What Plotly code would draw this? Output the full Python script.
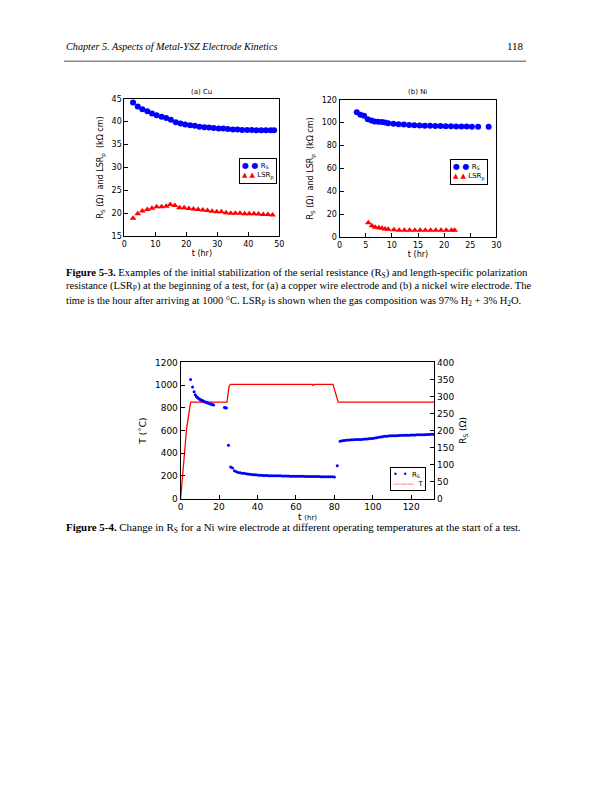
import plotly.graph_objects as go

W, H = 612, 792
def px(x): return x / W
def py(y): return 1 - y / H

# ---------------- (a) Cu ----------------
cu_t = [2.8, 4.3, 5.8, 7.4, 8.9, 10.4, 12.0, 13.5, 15.0, 16.6, 18.1, 19.6, 21.2, 22.7, 24.2,
        25.8, 27.3, 28.8, 30.4, 31.9, 33.4, 35.0, 36.5, 38.0, 39.6, 41.1, 42.6, 44.2, 45.7, 47.2, 48.3]
cu_rs = [44.2, 43.3, 42.7, 42.3, 41.8, 41.4, 41.1, 40.8, 40.4, 39.9, 39.6, 39.4, 39.2, 39.1, 38.9,
         38.8, 38.7, 38.6, 38.5, 38.5, 38.4, 38.3, 38.3, 38.2, 38.2, 38.2, 38.1, 38.1, 38.1, 38.1, 38.1]
cu_lsr_t = [2.8, 4.3, 5.8, 7.4, 8.9, 10.4, 12.0, 13.5, 14.8, 16.3, 17.8, 19.3, 20.8, 22.3, 23.8,
            25.3, 26.8, 28.3, 29.8, 31.3, 32.8, 34.3, 35.8, 37.3, 38.8, 40.3, 41.8, 43.3, 44.8, 46.3, 47.8]
cu_lsr = [18.9, 19.9, 20.5, 20.8, 21.1, 21.4, 21.4, 21.5, 21.9, 21.7, 21.2, 21.2, 21.0, 20.9, 20.8,
          20.7, 20.6, 20.4, 20.3, 20.3, 20.1, 20.0, 20.0, 20.0, 19.9, 19.9, 19.9, 19.8, 19.7, 19.7, 19.6]

# ---------------- (b) Ni ----------------
ni_t = [3.3, 4.0, 4.7, 5.4, 6.1, 6.7, 7.4, 8.1, 8.7, 9.3, 10.3, 11.3, 12.3, 13.3, 14.3, 15.3,
        16.3, 17.3, 18.3, 19.3, 20.3, 21.3, 22.3, 23.3, 24.3, 25.3, 26.5, 28.5]
ni_rs = [109, 107, 106, 103, 102, 101, 100.8, 100.5, 100.2, 99.5, 99, 98.6, 98.3, 98, 97.8, 97.5,
         97.3, 97.2, 97, 97, 96.9, 96.8, 96.7, 96.6, 96.6, 96.5, 96.5, 96.5]
ni_lsr_t = [5.5, 6.2, 6.8, 7.5, 8.1, 8.7, 9.3, 10.4, 11.4, 12.4, 13.4, 14.4, 15.4, 16.4, 17.4,
            18.4, 19.4, 20.4, 21.4, 22.0]
ni_lsr = [12.5, 9.8, 8.6, 8.2, 7.6, 7.0, 6.8, 6.3, 6.0, 6.0, 5.9, 5.9, 5.9, 5.9, 5.9,
          5.9, 5.9, 5.9, 5.9, 5.9]

# ---------------- Figure 5-4 ----------------
T_t = [0, 3.1, 5.2, 24.1, 25.2, 25.9, 68.5, 69.0, 69.5, 79.3, 82.0, 132]
T_val = [0, 620, 850, 850, 990, 1007, 1007, 997, 1007, 1007, 850, 850]

rs_t = [5.2, 6.2, 7.0, 7.6, 8.2, 8.7, 9.2, 9.7, 10.2, 10.7, 11.2, 11.7, 12.2, 12.7, 13.2, 13.7,
        14.2, 14.7, 15.2, 15.7, 16.2, 16.7, 17.2,
        22.8, 23.3, 23.8, 24.9,
        26, 27, 28, 29, 30, 31, 32, 33, 34, 35, 36, 37, 38, 39, 40, 41, 42, 43, 44, 45, 46, 47, 48,
        49, 50, 51, 52, 53, 54, 55, 56, 57, 58, 59, 60, 61, 62, 63, 64, 65, 66, 67, 68, 69, 70, 71,
        72, 73, 74, 75, 76, 77, 78, 79, 80,
        81.5,
        83, 84, 85, 86, 87, 88, 89, 90, 91, 92, 93, 94, 95, 96, 97, 98, 99, 100, 101, 102, 103, 104,
        105, 106, 107, 108, 109, 110, 111, 112, 113, 114, 115, 116, 117, 118, 119, 120, 121, 122,
        123, 124, 125, 126, 127, 128, 129, 130, 131, 132]
rs_val = [350, 328, 314, 305, 300, 297, 295, 293, 291, 289, 288, 287, 285, 284, 283, 282,
          281, 280, 279, 278, 277, 276, 275,
          268, 267, 266, 157,
          93, 90, 82, 79, 77, 76, 75, 74.5, 73.5, 72.5, 71.5, 71, 70.5, 70, 69.5, 69, 68.5, 68.2, 68,
          67.8, 67.6, 67.5, 67.4, 67.3, 67.2, 67.1, 67, 66.8, 66.6, 66.4, 66.3, 66.2, 66.1, 66, 66,
          65.9, 65.8, 65.7, 65.6, 65.5, 65.4, 65.3, 65.2, 65.1, 65, 64.9, 64.8, 64.7, 64.6, 64.5,
          64.4, 64.3, 64.2, 64.1, 64,
          97,
          168.5, 170, 171, 171.5, 172, 172.5, 173, 173, 173.5, 173.5, 174, 174, 174.5, 175, 175.5,
          176, 176.5, 177, 178, 179, 180, 181, 182, 183, 183.5, 184, 184.5, 184.5, 185, 185, 185.5,
          185.5, 186, 186, 186, 186.5, 186.5, 187, 187, 187, 187.5, 187.5, 188, 188, 188, 188.5,
          188.5, 189, 189, 189.5]

BLUE = "#0000ff"
RED = "#ff0000"
SANS = "DejaVu Sans"
SERIF = "Liberation Serif"

fig = go.Figure()

fig.add_trace(go.Scatter(x=cu_t, y=cu_rs, mode="markers", name="R<sub>S</sub>",
                         marker=dict(color=BLUE, size=6), xaxis="x", yaxis="y"))
fig.add_trace(go.Scatter(x=cu_lsr_t, y=cu_lsr, mode="markers", name="LSR<sub>p</sub>",
                         marker=dict(color=RED, size=6, symbol="triangle-up"), xaxis="x", yaxis="y"))
fig.add_trace(go.Scatter(x=ni_t, y=ni_rs, mode="markers", name="R<sub>S</sub>",
                         marker=dict(color=BLUE, size=6), xaxis="x2", yaxis="y2"))
fig.add_trace(go.Scatter(x=ni_lsr_t, y=ni_lsr, mode="markers", name="LSR<sub>p</sub>",
                         marker=dict(color=RED, size=6, symbol="triangle-up"), xaxis="x2", yaxis="y2"))
fig.add_trace(go.Scatter(x=rs_t, y=rs_val, mode="markers", name="R<sub>S</sub>",
                         marker=dict(color=BLUE, size=3), xaxis="x3", yaxis="y4"))
fig.add_trace(go.Scatter(x=T_t, y=T_val, mode="lines", name="T",
                         line=dict(color=RED, width=1.3), xaxis="x3", yaxis="y3"))

def ax(**kw):
    d = dict(showline=True, linecolor="black", linewidth=1, mirror=True, ticks="inside",
             ticklen=4, tickcolor="black", showgrid=False, zeroline=False,
             tickfont=dict(family=SANS, size=8, color="black"))
    d.update(kw)
    return d

tfont = dict(family=SANS, size=8, color="black")
bfont = dict(family=SANS, size=9, color="black")

fig.update_layout(
    width=W, height=H, margin=dict(l=0, r=0, t=0, b=0),
    paper_bgcolor="white", plot_bgcolor="white", showlegend=False,
    xaxis=ax(domain=[px(123), px(280)], range=[0, 50], dtick=10, anchor="y",
             title=dict(text="t (hr)", font=tfont, standoff=2)),
    yaxis=ax(domain=[py(234), py(95)], range=[15, 45], dtick=5, anchor="x",
             title=dict(text="R<sub>S</sub> (Ω)  and LSR<sub>p</sub>  (kΩ cm)", font=tfont, standoff=6)),
    xaxis2=ax(domain=[px(341), px(500)], range=[0, 30], dtick=5, anchor="y2",
              title=dict(text="t (hr)", font=tfont, standoff=2)),
    yaxis2=ax(domain=[py(235), py(96)], range=[0, 120], dtick=20, anchor="x2",
              title=dict(text="R<sub>S</sub> (Ω)  and LSR<sub>p</sub>  (kΩ cm)", font=tfont, standoff=6)),
    xaxis3=ax(domain=[px(180), px(437)], range=[0, 132], dtick=20, anchor="y3",
              tickfont=bfont,
              title=dict(text="t <span style='font-size:7px'>(hr)</span>", font=bfont, standoff=1)),
    yaxis3=ax(domain=[py(500), py(362)], range=[0, 1200], dtick=200, anchor="x3",
              tickfont=bfont,
              title=dict(text="T (˚C)", font=bfont, standoff=6)),
    yaxis4=ax(overlaying="y3", side="right", range=[0, 400], dtick=50, anchor="x3", mirror=False,
              tickfont=bfont,
              title=dict(text="R<sub>S</sub> (Ω)", font=bfont, standoff=6)),
)

def note(text, x, y, size, family=SANS, xanchor="center", yanchor="middle", **kw):
    return dict(text=text, x=px(x), y=py(y), xref="paper", yref="paper", xanchor=xanchor,
                yanchor=yanchor, showarrow=False, font=dict(family=family, size=size, color="black"), **kw)

def legend_box(lines, x, y):
    return note("<br>".join(lines), x, y, 7, SANS, "left", "top", align="left",
                bordercolor="black", borderwidth=1, borderpad=2, bgcolor="white")

dots = "<span style='color:#0000ff;font-size:8px'>● ●</span>"
tris = "<span style='color:#ff0000;font-size:7px'>▲ ▲</span>"
small_dots = "<span style='color:#0000ff;font-size:8px'>•  •</span>"
red_line = "<span style='color:#ff0000'>———</span>"

ann = [
    note("(a) Cu", 201, 88, 7),
    note("(b) Ni", 420, 88, 7),
    note("<i>Chapter 5. Aspects of Metal-YSZ Electrode Kinetics</i>", 62, 42, 10.2, SERIF, "left"),
    note("118", 530, 42, 11, SERIF, "right"),
    legend_box([dots + " R<sub>S</sub>", tris + " LSR<sub>p</sub>"], 239, 155),
    legend_box([dots + " R<sub>S</sub>", tris + " LSR<sub>p</sub>"], 453, 156),
    legend_box([small_dots + "  R<sub>S</sub>", red_line + "  T"], 392, 468),
]

cap = [
    "<b>Figure 5-3.</b> Examples of the initial stabilization of the serial resistance (R<sub>S</sub>) and length-specific polarization",
    "resistance (LSR<sub>P</sub>) at the beginning of a test, for (a) a copper wire electrode and (b) a nickel wire electrode. The",
    "time is the hour after arriving at 1000 °C. LSR<sub>P</sub> is shown when the gas composition was 97% H<sub>2</sub> + 3% H<sub>2</sub>O.",
]
cap_sizes = [10.7, 10.5, 10.5]
for i, line in enumerate(cap):
    ann.append(note(line, 62, 271 + 14.5 * i, cap_sizes[i], SERIF, "left"))
ann.append(note("<b>Figure 5-4.</b> Change in R<sub>S</sub> for a Ni wire electrode at different operating temperatures at the start of a test.",
                62, 530, 10.9, SERIF, "left"))
fig.update_layout(annotations=ann)

fig.add_shape(type="line", xref="paper", yref="paper", x0=px(62), x1=px(530), y0=py(57), y1=py(57),
              line=dict(color="#888888", width=1.5))

fig.write_html("out.html", config={"displayModeBar": False},
               post_script="document.body.style.margin='0';")
